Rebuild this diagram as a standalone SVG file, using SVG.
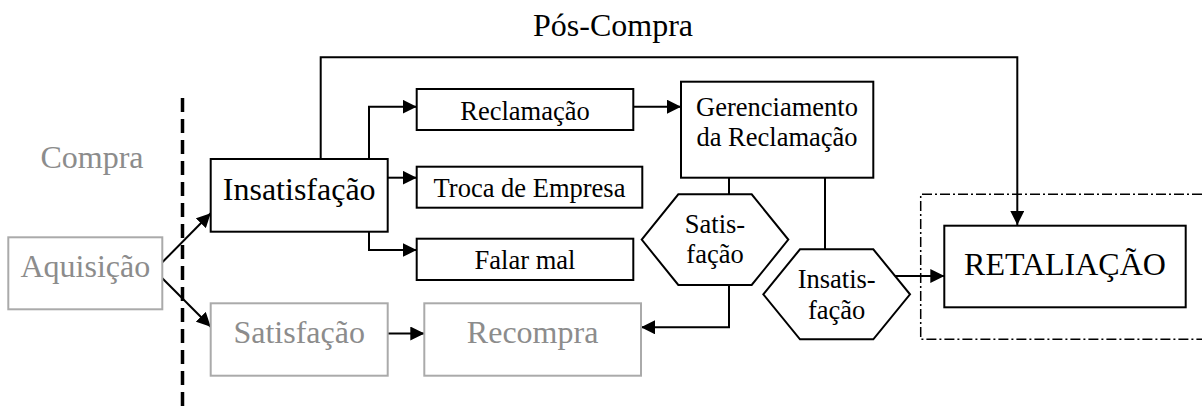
<svg xmlns="http://www.w3.org/2000/svg" width="1202" height="412" viewBox="0 0 1202 412">
<style>
text{font-family:"Liberation Serif","Times New Roman",serif;text-anchor:middle;fill:#000}
.big{font-size:32px}
.sm{font-size:26.5px}
.gray{fill:#8c8c8c}
.box{fill:#fff;stroke:#000;stroke-width:2}
.gbox{fill:#fff;stroke:#aaa;stroke-width:2}
.ln{fill:none;stroke:#000;stroke-width:2}
</style>
<defs>
<marker id="ah" markerWidth="14" markerHeight="14" refX="14" refY="7" orient="auto" markerUnits="userSpaceOnUse">
<path d="M0,0 L14,7 L0,14 Z" fill="#000"/>
</marker>
</defs>
<rect width="1202" height="412" fill="#fff"/>
<text class="big" x="613" y="36">Pós-Compra</text>
<text class="big gray" x="92" y="168">Compra</text>
<line x1="182.5" y1="98" x2="182.5" y2="412" stroke="#000" stroke-width="3.5" stroke-dasharray="14,7"/>
<path d="M1202,194.3 H920.7 V339.3 H1202" fill="none" stroke="#000" stroke-width="1.5" stroke-dasharray="10,3,2,3"/>
<g id="connectors">
<path class="ln" d="M320.7,159 V57.3 H1017.3 V225" marker-end="url(#ah)"/>
<path class="ln" d="M369,159 V106.7 H416.7" marker-end="url(#ah)"/>
<path class="ln" d="M387.7,177.7 H416.7" marker-end="url(#ah)"/>
<path class="ln" d="M369,231.7 V250 H416.7" marker-end="url(#ah)"/>
<path class="ln" d="M162.3,262.3 L210.7,213.3" marker-end="url(#ah)"/>
<path class="ln" d="M162.3,278.3 L210.7,326.7" marker-end="url(#ah)"/>
<path class="ln" d="M387.7,333.5 H424.3" marker-end="url(#ah)"/>
<path class="ln" d="M633.3,106.7 H681" marker-end="url(#ah)"/>
<path class="ln" d="M729,177.7 V194.3"/>
<path class="ln" d="M729,285 V327.3 H641" marker-end="url(#ah)"/>
<path class="ln" d="M825,177.7 V249.3"/>
<path class="ln" d="M895,276 H944.3" marker-end="url(#ah)"/>
</g>
<g id="aquisicao">
<rect class="gbox" x="8.3" y="237.3" width="154" height="72" stroke="#c0c0c0"/>
<text class="big gray" x="85.3" y="277">Aquisição</text>
</g>
<g id="insatisfacao">
<rect class="box" x="210.7" y="159" width="177" height="72.7"/>
<text class="big" x="299.2" y="200">Insatisfação</text>
</g>
<g id="satisfacao">
<rect class="gbox" x="210.7" y="303.3" width="177" height="72.4"/>
<text class="big gray" x="299.2" y="343">Satisfação</text>
</g>
<g id="reclamacao">
<rect class="box" x="416.7" y="89" width="216.6" height="41"/>
<text class="sm" x="525" y="119.5">Reclamação</text>
</g>
<g id="troca">
<rect class="box" x="416.7" y="166.7" width="225.6" height="41"/>
<text class="sm" x="529.5" y="197">Troca de Empresa</text>
</g>
<g id="falar">
<rect class="box" x="416.7" y="238.7" width="216.6" height="41.3"/>
<text class="sm" x="525" y="269">Falar mal</text>
</g>
<g id="recompra">
<rect class="gbox" x="424.3" y="303.3" width="216.7" height="72.4"/>
<text class="big gray" x="532.6" y="343">Recompra</text>
</g>
<g id="gerenciamento">
<rect class="box" x="681" y="81.7" width="192.3" height="96"/>
<text class="sm" x="777" y="116">Gerenciamento</text>
<text class="sm" x="777" y="146">da Reclamação</text>
</g>
<g id="hex-satisfacao">
<polygon class="box" points="641.7,239.6 678.3,194.3 751.7,194.3 788.3,239.6 751.7,285 678.3,285"/>
<text class="sm" x="715" y="233">Satis-</text>
<text class="sm" x="715" y="263">fação</text>
</g>
<g id="hex-insatisfacao">
<polygon class="box" points="763.3,294.3 800,249.3 873.3,249.3 910,294.3 873.3,339.3 800,339.3"/>
<text class="sm" x="836.7" y="288">Insatis-</text>
<text class="sm" x="836.7" y="319">fação</text>
</g>
<g id="retaliacao">
<rect class="box" x="944.3" y="225.7" width="241.4" height="81.6"/>
<text class="big" x="1065" y="275">RETALIAÇÃO</text>
</g>
</svg>
